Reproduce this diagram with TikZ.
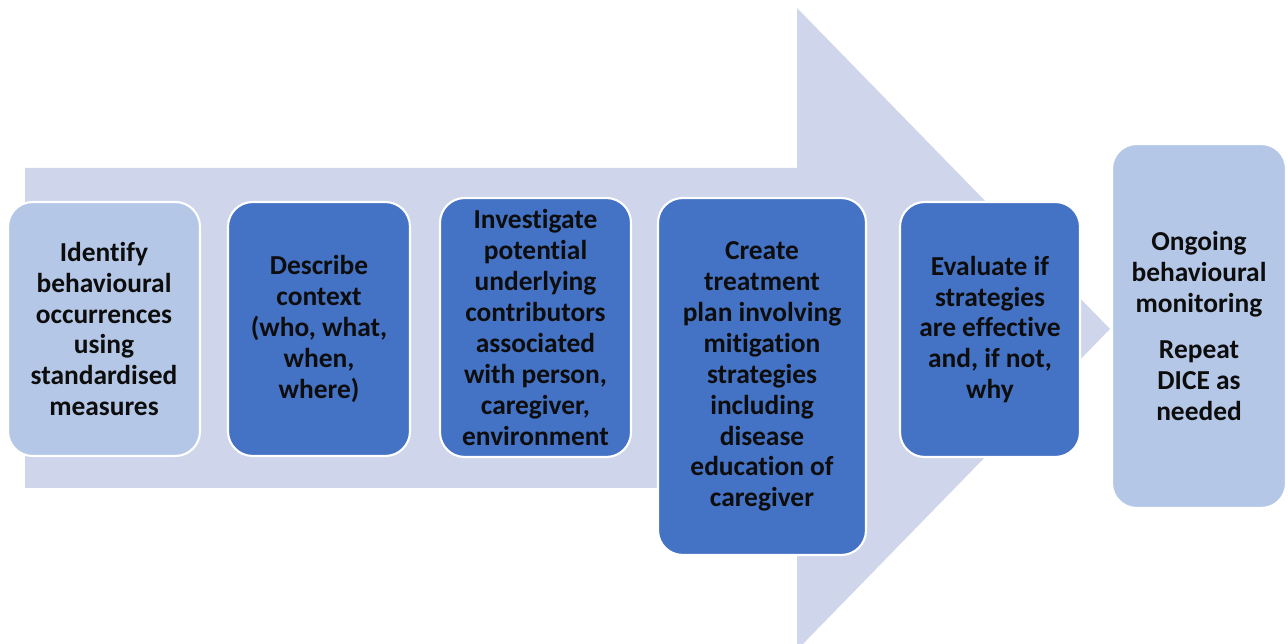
\documentclass[tikz,border=0pt]{standalone}
\usepackage{fontspec}
\setmainfont{Carlito}[Ligatures=CommonOff]
\usepackage{tikz}

\definecolor{arrowbg}{HTML}{CFD5EA}
\definecolor{stepdark}{HTML}{4472C4}
\definecolor{steplight}{HTML}{B4C7E7}
\definecolor{steptext}{HTML}{0D0D0D}

\tikzset{
  dicebox/.style={draw=white, line width=1.2pt, rounded corners=14pt, align=center,
    inner sep=0pt, text=steptext, font=\fontsize{15.6}{17.6}\selectfont\bfseries},
  darkbox/.style={dicebox, fill=stepdark},
  lightbox/.style={dicebox, fill=steplight}
}

\begin{document}
\begin{tikzpicture}[x=0.02cm, y=-0.02cm]
     \useasboundingbox (0, 0) rectangle (1288, 644);
     \clip (0, 0) rectangle (1288, 644);

     % big arrow behind the steps
     \fill [arrowbg] (25, 168) -- (797, 168) -- (797, 8) -- (1110, 329)
        -- (797, 650) -- (797, 488) -- (25, 488) -- cycle;

     \node [lightbox, minimum width=3.84cm, minimum height=5.08cm] (identify) at (104, 329)
        {Identify\\ behavioural\\ occurrences\\ using\\ standardised\\ measures};
     \node [darkbox, minimum width=3.64cm, minimum height=5.08cm] (describe) at (319, 329)
        {Describe\\ context\\ (who, what,\\ when,\\ where)};
     \node [darkbox, minimum width=3.82cm, minimum height=5.18cm] (investigate) at (535.5, 327.5)
        {Investigate\\ potential\\ underlying\\ contributors\\ associated\\ with person,\\ caregiver,\\ environment};
     \node [darkbox, minimum width=4.16cm, minimum height=7.14cm] (create) at (762, 376.5)
        {Create\\ treatment\\ plan involving\\ mitigation\\ strategies\\ including\\ disease\\ education of\\ caregiver};
     \node [darkbox, minimum width=3.60cm, minimum height=5.10cm] (evaluate) at (990, 329.5)
        {Evaluate if\\ strategies\\ are effective\\ and, if not,\\ why};
     \node [lightbox, minimum width=3.48cm, minimum height=7.28cm] (ongoing) at (1199, 326)
        {Ongoing\\ behavioural\\ monitoring\\[9pt] Repeat\\ DICE as\\ needed};
\end{tikzpicture}
\end{document}
